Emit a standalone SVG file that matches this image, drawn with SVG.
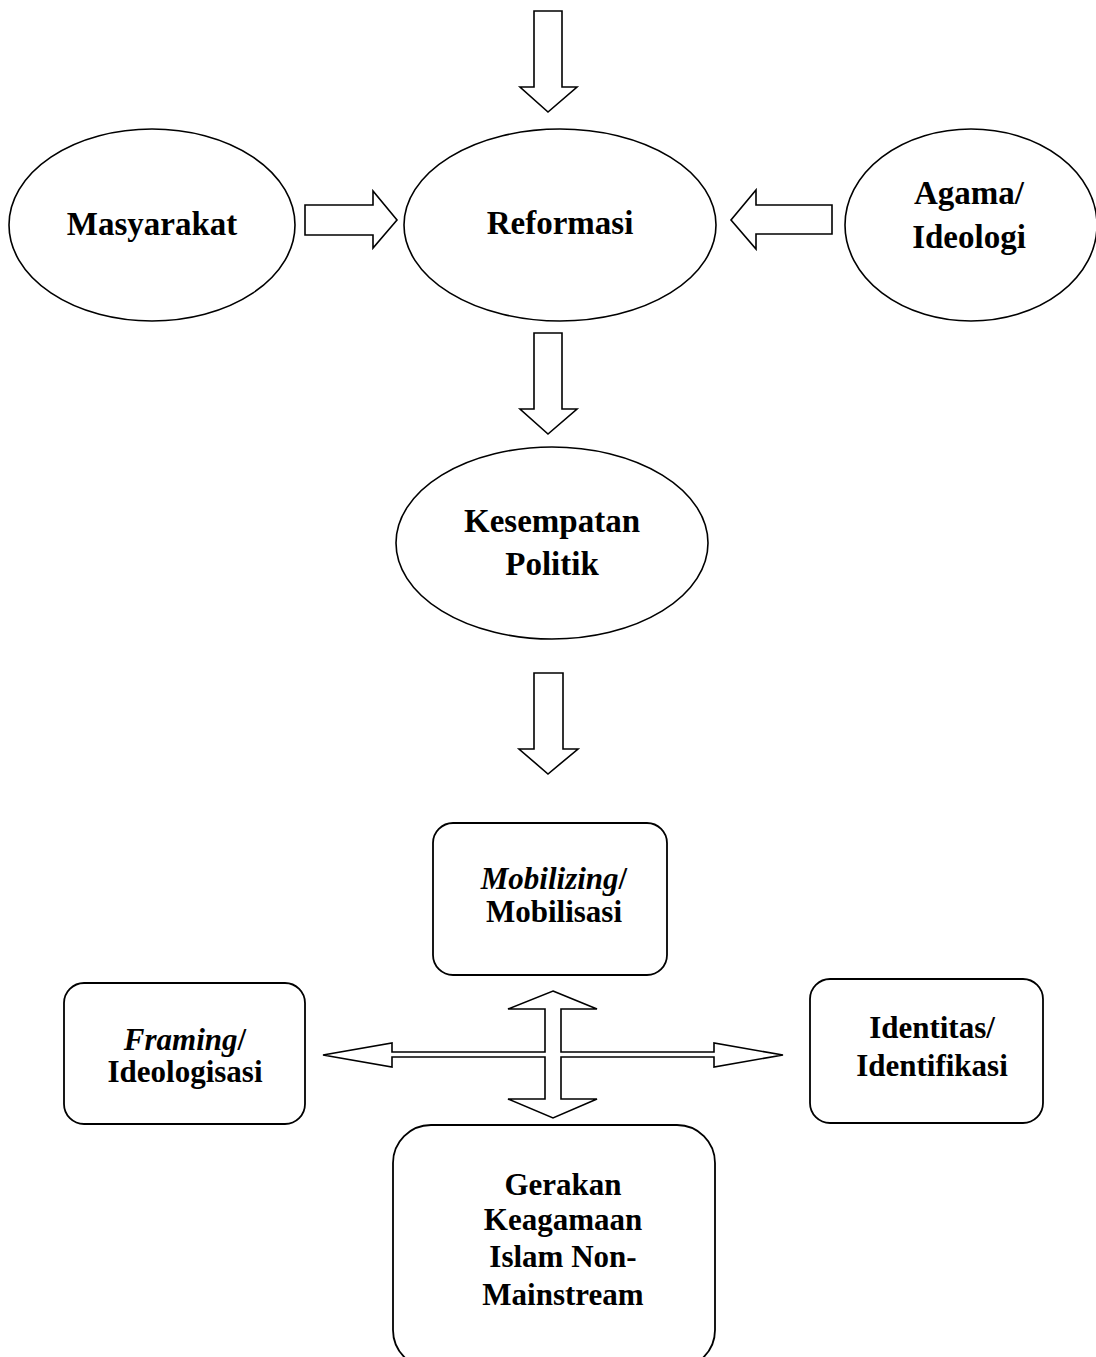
<svg xmlns="http://www.w3.org/2000/svg" width="1096" height="1357" viewBox="0 0 1096 1357">
<style>
.bg{fill:#ffffff}
.shape{fill:#ffffff;stroke:#000000;stroke-width:1.6}
.box{fill:#ffffff;stroke:#000000;stroke-width:1.8}
.arrow{fill:#ffffff;stroke:#000000;stroke-width:1.6;stroke-linejoin:miter}
.el{font-family:"Liberation Serif","Times New Roman",serif;font-weight:bold;font-size:33px;fill:#000000;text-anchor:middle}
.bx{font-family:"Liberation Serif","Times New Roman",serif;font-weight:bold;font-size:31px;fill:#000000;text-anchor:middle}
.it{font-style:italic}
</style>
<rect class="bg" x="0" y="0" width="1096" height="1357"/>
<g id="connectors">
<polygon class="arrow" points="534,11 562,11 562,87 577,87 548,112 520,87 534,87"/>
<polygon class="arrow" points="305,205 373,205 373,191 397,220 373,248 373,235 305,235"/>
<polygon class="arrow" points="832,205 756,205 756,190 731,220 756,249 756,234 832,234"/>
<polygon class="arrow" points="534,333 562,333 562,409 577,409 548,434 520,409 534,409"/>
<polygon class="arrow" points="534,673 563,673 563,749 578,749 548,774 519,749 534,749"/>
<polygon class="arrow" points="553,991 597,1009 561,1009 561,1052 714,1052 714,1043 783,1055 714,1067 714,1057 561,1057 561,1099 597,1099 553,1118 508,1099 545,1099 545,1057 392,1057 392,1067 323,1055 392,1043 392,1052 545,1052 545,1009 508,1009"/>
</g>
<g id="masyarakat">
<ellipse class="shape" cx="152" cy="225" rx="143" ry="96"/>
<text class="el" x="152" y="235">Masyarakat</text>
</g>
<g id="reformasi">
<ellipse class="shape" cx="560" cy="225" rx="156" ry="96"/>
<text class="el" x="560" y="234">Reformasi</text>
</g>
<g id="agama">
<ellipse class="shape" cx="971" cy="225" rx="126" ry="96"/>
<text class="el" x="969" y="204">Agama/</text>
<text class="el" x="969" y="248">Ideologi</text>
</g>
<g id="kesempatan">
<ellipse class="shape" cx="552" cy="543" rx="156" ry="96"/>
<text class="el" x="552" y="532">Kesempatan</text>
<text class="el" x="552" y="575">Politik</text>
</g>
<g id="mobilizing">
<rect class="box" x="433" y="823" width="234" height="152" rx="20" ry="20"/>
<text class="bx" x="554" y="889"><tspan class="it">Mobilizing</tspan>/</text>
<text class="bx" x="554" y="922">Mobilisasi</text>
</g>
<g id="framing">
<rect class="box" x="64" y="983" width="241" height="141" rx="20" ry="20"/>
<text class="bx" x="185" y="1050"><tspan class="it">Framing</tspan>/</text>
<text class="bx" x="185" y="1082">Ideologisasi</text>
</g>
<g id="identitas">
<rect class="box" x="810" y="979" width="233" height="144" rx="20" ry="20"/>
<text class="bx" x="932" y="1038">Identitas/</text>
<text class="bx" x="932" y="1076">Identifikasi</text>
</g>
<g id="gerakan">
<rect class="box" x="393" y="1125" width="322" height="243" rx="38" ry="38"/>
<text class="bx" x="563" y="1195" font-size="32">Gerakan</text>
<text class="bx" x="563" y="1230" font-size="32">Keagamaan</text>
<text class="bx" x="563" y="1267" font-size="32">Islam Non-</text>
<text class="bx" x="563" y="1305" font-size="32">Mainstream</text>
</g>
</svg>
